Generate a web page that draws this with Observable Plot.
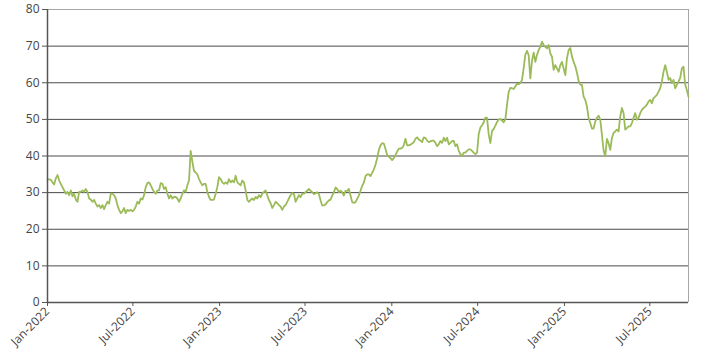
<!DOCTYPE html>
<html>
<head>
<meta charset="utf-8">
<script src="https://cdn.jsdelivr.net/npm/d3@7"></script>
<script src="https://cdn.jsdelivr.net/npm/@observablehq/plot@0.6"></script>
<style>
  html, body { margin: 0; padding: 0; background: #fff; }
  #chart svg { display: block; font-family: "Open Sans", sans-serif; }
</style>
</head>
<body>
<div id="chart"></div>
<script>
// Sampling: series starts 2022-01-01, one reading every ~3.53 days
const startDate = "2022-01-01";
const stepDays = 3.53;

const values2022 = [
  33.6, 33.6, 33.5, 32.8, 32.2, 33.9, 34.8, 33.3, 32.4, 31.5,
  30.6, 29.7, 30.2, 29.3, 30.6, 29.0, 29.7, 28.1, 27.5, 30.2,
  30.2, 30.6, 30.2, 31.0, 30.2, 28.4, 28.1, 27.5, 28.0, 27.0,
  26.2, 26.6, 25.8, 26.6, 25.5, 26.6, 27.5, 27.0, 29.7, 29.7,
  29.3, 28.4, 26.6, 25.3, 24.4, 24.9, 25.8, 24.4, 25.3, 25.0,
  25.3, 24.9, 25.3, 26.2, 27.5, 27.0, 28.4, 28.1, 29.3, 31.5,
  32.6, 32.8, 32.0, 31.0, 30.2, 29.7, 30.6, 30.6, 32.6, 32.4,
  31.0, 31.5, 29.7, 28.4, 29.3, 28.4, 28.8
];
const values2023 = [
  28.8, 28.4, 27.5, 28.4, 29.7, 30.6, 30.2, 32.0, 33.3, 41.4,
  38.5, 35.9, 35.5, 35.0, 33.7, 32.8, 32.0, 32.4, 32.4, 30.2,
  28.8, 28.0, 28.0, 28.1, 29.7, 31.5, 34.2, 33.7, 32.8, 32.4,
  32.8, 32.4, 33.7, 32.8, 33.3, 32.8, 34.6, 32.8, 32.4, 32.0,
  33.3, 32.8, 30.6, 28.0, 27.5, 28.0, 28.4, 28.0, 28.8, 28.4,
  29.3, 28.8, 29.7, 30.2, 30.6, 29.3, 28.0, 27.1, 25.8, 26.6,
  27.5, 27.1, 26.6, 26.2, 25.3, 26.2, 26.6, 27.5, 28.4, 29.3,
  29.9, 29.7, 27.5, 28.4, 29.3, 28.8, 29.7, 29.7
];
const values2024a = [
  30.1, 30.5, 31.0, 30.5, 30.1, 29.6, 29.8, 30.1, 29.6, 27.9,
  26.5, 26.5, 26.8, 27.4, 27.9, 28.1, 29.2, 30.1, 31.4, 31.0,
  30.1, 30.5, 30.1, 29.2, 30.5, 30.5, 31.0, 29.2, 27.4, 27.2,
  27.4, 28.3, 29.2, 30.5, 31.9, 32.7, 34.5, 35.0, 35.0, 34.5,
  35.4, 36.3, 37.6, 39.4, 41.6, 42.9, 43.5, 43.4, 42.0, 40.3,
  39.8, 39.4, 38.9, 39.4, 40.3, 41.2, 42.0, 42.0, 42.2, 42.9,
  44.7, 42.9, 42.9, 43.1, 43.4, 43.8, 44.7, 45.1, 44.5, 44.2,
  43.8, 45.1, 44.9, 44.2, 43.8, 44.0, 44.2, 44.2
];
const values2024b = [
  43.6, 42.7, 43.2, 44.1, 43.6, 45.0, 44.1, 45.0, 43.2, 43.6,
  44.1, 44.1, 42.7, 43.2, 41.4, 40.5, 40.0, 40.9, 40.9, 41.4,
  41.8, 41.8, 41.4, 40.9, 40.5, 40.9, 46.0, 47.8, 48.4, 49.2,
  50.5, 50.4, 45.9, 43.5, 46.8, 47.4, 48.3, 49.3, 50.0, 50.1,
  49.7, 49.2, 50.0, 54.0, 57.5, 58.6, 58.5, 58.3, 59.0, 59.7,
  59.6, 59.9, 60.8, 64.0, 67.7, 68.7, 67.5, 61.2, 66.0, 68.2,
  65.7, 67.6, 68.9, 69.8, 71.2, 70.3, 69.8, 69.4, 70.3, 68.0,
  67.1, 63.5, 64.8, 63.9, 63.0, 64.8, 65.7, 63.9
];
const values2025 = [
  62.1, 66.7, 68.9, 69.5, 67.2, 65.7, 64.5, 62.8, 60.5, 59.5,
  59.4, 56.2, 55.3, 53.5, 50.4, 49.0, 47.5, 47.5, 49.4, 50.4,
  51.0, 49.9, 45.8, 41.5, 39.9, 44.7, 43.5, 41.7, 44.9, 46.3,
  46.7, 47.2, 46.7, 50.8, 53.1, 51.7, 47.2, 47.6, 48.1, 48.1,
  49.0, 50.4, 51.7, 49.9, 50.4, 51.7, 52.6, 53.1, 53.5, 54.0,
  54.9, 55.3, 54.4, 55.8, 56.2, 56.7, 57.6, 58.5, 60.3, 63.0,
  64.8, 63.0, 60.8, 61.3, 59.9, 60.8, 58.5, 59.4, 60.3, 61.3,
  63.9, 64.4, 59.5, 58.0, 56.2
];

const xTickDates = ["2022-01-01", "2022-07-01", "2023-01-01", "2023-07-01",
                    "2024-01-01", "2024-07-01", "2025-01-01", "2025-07-01"];
const xTickLabels = ["Jan-2022", "Jul-2022", "Jan-2023", "Jul-2023",
                     "Jan-2024", "Jul-2024", "Jan-2025", "Jul-2025"];
const yTicks = [0, 10, 20, 30, 40, 50, 60, 70, 80];

const allValues = [...values2022, ...values2023, ...values2024a, ...values2024b, ...values2025];
const t0 = new Date(startDate + "T00:00:00Z").getTime();
const data = allValues.map((v, i) => ({date: new Date(t0 + i * stepDays * 864e5), value: v}));
const xStart = data[0].date;
const xEnd = data[data.length - 1].date;
const tickDates = xTickDates.map(s => new Date(s + "T00:00:00Z"));
const labelOf = new Map(tickDates.map((d, i) => [+d, xTickLabels[i]]));

const chart = Plot.plot({
  width: 707,
  height: 361,
  marginLeft: 47,
  marginRight: 19,
  marginTop: 9,
  marginBottom: 59,
  style: {fontFamily: "'Open Sans', sans-serif", fontSize: "12px", color: "#444", background: "#fff"},
  x: {type: "utc", domain: [xStart, xEnd]},
  y: {domain: [0, 80]},
  marks: [
    Plot.ruleY(yTicks.filter(d => d > 0 && d < 80), {stroke: "#4a4a4a", strokeWidth: 1}),
    Plot.ruleY([80], {stroke: "#a6a6a6", strokeWidth: 1}),
    Plot.ruleX([xEnd], {stroke: "#a6a6a6", strokeWidth: 1}),
    Plot.line(data, {x: "date", y: "value", stroke: "#9bbb59", strokeWidth: 1.8}),
    Plot.ruleX([xStart], {stroke: "#555", strokeWidth: 1.5}),
    Plot.ruleY([0], {stroke: "#555", strokeWidth: 1.5}),
    Plot.axisY({ticks: yTicks, tickSize: 5, tickPadding: 3, stroke: "#555", fill: "#444", fontSize: 12, label: null}),
    Plot.axisX({ticks: tickDates, tickSize: 4, tickPadding: 3, tickRotate: -45, stroke: "#555", fill: "#444", fontSize: 12,
                tickFormat: d => labelOf.get(+d), label: null})
  ]
});
document.getElementById("chart").appendChild(chart);
</script>
</body>
</html>
